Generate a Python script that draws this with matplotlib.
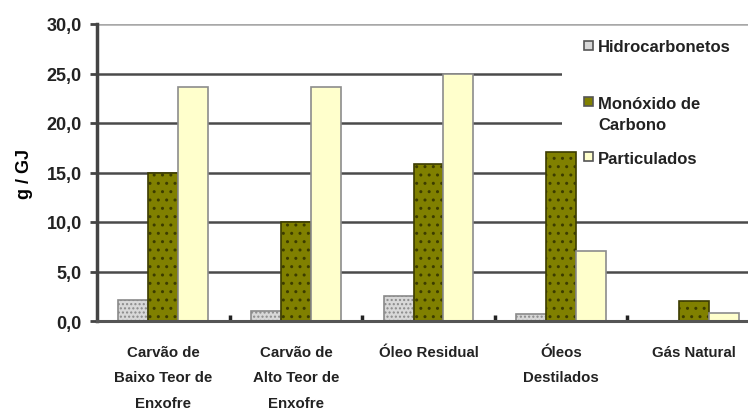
import matplotlib
matplotlib.use("Agg")
import matplotlib.pyplot as plt
import numpy as np
from matplotlib.patches import Rectangle

categories = ["Carvão de\nBaixo Teor de\nEnxofre", "Carvão de\nAlto Teor de\nEnxofre",
              "Óleo Residual", "Óleos\nDestilados", "Gás Natural"]
series_names = ["Hidrocarbonetos", "Monóxido de\nCarbono", "Particulados"]
hidrocarbonetos = [2.1, 1.0, 2.5, 0.7, 0.0]
monoxido = [14.9, 10.0, 15.9, 17.1, 2.0]
particulados = [23.6, 23.6, 25.0, 7.1, 0.8]
yticks = [0, 5, 10, 15, 20, 25, 30]
ytick_labels = ["0,0", "5,0", "10,0", "15,0", "20,0", "25,0", "30,0"]

plt.rcParams['font.family'] = ['Liberation Sans', 'DejaVu Sans']
plt.rcParams['hatch.linewidth'] = 1.0

W, H = 748, 410
fig = plt.figure(figsize=(W / 100, H / 100), dpi=100)
left, right, top, bottom = 97, 760, 25, 322
ax = fig.add_axes([left / W, 1 - bottom / H, (right - left) / W, (bottom - top) / H])

x = np.arange(len(categories))
bw = 0.226
styles = [
    dict(facecolor="#d8d8d8", edgecolor="#8a8a8a", hatch="...."),
    dict(facecolor="#808000", edgecolor="#3c3c00", hatch=".."),
    dict(facecolor="#ffffcc", edgecolor="#8c8c8c", hatch=None),
]
data = [hidrocarbonetos, monoxido, particulados]
for i, (vals, st) in enumerate(zip(data, styles)):
    ax.bar(x + (i - 1) * bw, vals, width=bw, linewidth=1.2, zorder=3, **st)

ax.set_xlim(-0.5, len(categories) - 0.5)
ax.set_ylim(0, 30)
ax.set_yticks(yticks)
ax.set_yticklabels(ytick_labels, fontsize=13, fontweight='bold', color="#222222")
ax.set_xticks(x)
ax.set_xticklabels(categories, fontsize=10.8, fontweight='bold', color="#222222",
                   linespacing=2.05)
ax.tick_params(axis='x', length=0, pad=17)
ax.set_xticks(np.arange(0.5, len(categories) - 1, 1.0), minor=True)
ax.tick_params(axis='x', which='minor', direction='in', length=4, width=2.5, color="#222222")
ax.tick_params(axis='y', direction='out', length=5, width=2, color="#444444", pad=6)

for yv in yticks[1:-1]:
    ax.axhline(yv, color="#4a4a4a", linewidth=1.8, zorder=1)
ax.axhline(30, color="#a8a8a8", linewidth=1.8, zorder=1)

for s in ["top", "right"]:
    ax.spines[s].set_visible(False)
ax.spines["left"].set_color("#444444")
ax.spines["left"].set_linewidth(2.5)
ax.spines["bottom"].set_color("#555555")
ax.spines["bottom"].set_linewidth(2.2)
ax.spines["bottom"].set_zorder(4)

ax.set_ylabel("g / GJ", fontsize=13, fontweight='bold', labelpad=10)

# legend area (white box behind bars, covering grid lines)
ax.add_patch(Rectangle((562 / W, 1 - 180 / H), (W - 562) / W + 0.05, 150 / H,
                       transform=fig.transFigure, facecolor="white", edgecolor="none",
                       zorder=2, clip_on=False))
leg_y = [46, 102, 157]
text_y = [47, 115, 160]
for name, st, sy, ty in zip(series_names, styles, leg_y, text_y):
    fig.patches.append(Rectangle((584 / W, 1 - (sy + 4.5) / H), 9 / W, 9 / H,
                                 transform=fig.transFigure, facecolor=st["facecolor"],
                                 edgecolor="#555555", linewidth=1.2))
    fig.text(598 / W, 1 - ty / H, name, fontsize=12, fontweight='bold', color="#222222",
             ha='left', va='center', linespacing=1.45)

fig.savefig("out.png", dpi=100)
